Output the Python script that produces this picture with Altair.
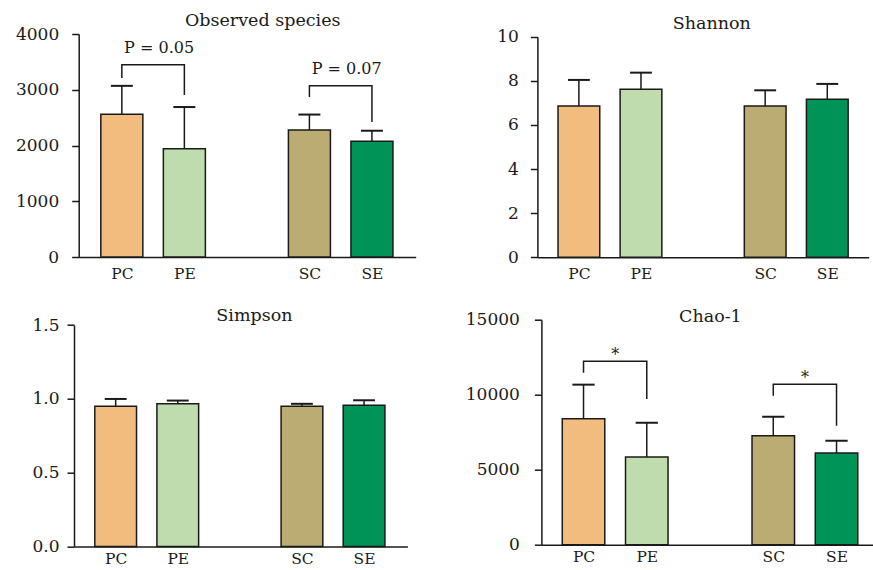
import altair as alt
import pandas as pd

# ---------------- data ----------------
GROUPS = ["PC", "PE", "SC", "SE"]
SLOTS = [1, 2, 4, 5]  # category slot on the x axis (gap between P and S groups)
COLORS = ["#F2BC7E", "#BEDCAE", "#BBAC74", "#009357"]

OBS_MEAN = [2560, 1940, 2280, 2075]
OBS_UPPER = [3070, 2690, 2555, 2265]
SHANNON_MEAN = [6.86, 7.62, 6.86, 7.16]
SHANNON_UPPER = [8.04, 8.37, 7.57, 7.86]
SIMPSON_MEAN = [0.949, 0.966, 0.949, 0.956]
SIMPSON_UPPER = [0.999, 0.988, 0.966, 0.990]
CHAO_MEAN = [8400, 5840, 7270, 6110]
CHAO_UPPER = [10670, 8130, 8530, 6930]

BRACKET_LEFT = ["PC", "SC"]
BRACKET_RIGHT = ["PE", "SE"]
OBS_BRACKET_TOP = [3450, 3070]
OBS_BRACKET_LEFT_END = [3210, 2870]
OBS_BRACKET_RIGHT_END = [2905, 2420]
OBS_BRACKET_LABEL = ["P = 0.05", "P = 0.07"]
CHAO_BRACKET_TOP = [12230, 10690]
CHAO_BRACKET_LEFT_END = [11460, 9930]
CHAO_BRACKET_RIGHT_END = [9710, 7930]
CHAO_BRACKET_LABEL = ["*", "*"]

OBS_TICKS = [0, 1000, 2000, 3000, 4000]
SHANNON_TICKS = [0, 2, 4, 6, 8, 10]
SIMPSON_TICKS = [0, 0.5, 1.0, 1.5]
CHAO_TICKS = [0, 5000, 10000, 15000]

TITLES = ["Observed species", "Shannon", "Simpson", "Chao-1"]

# ---------------- style ----------------
FONT = "DejaVu Serif"
INK = "#1a1a1a"
SLOT_OF = dict(zip(GROUPS, SLOTS))
LABEL_EXPR = " : ".join(f"datum.value == {s} ? '{g}'" for g, s in zip(GROUPS, SLOTS)) + " : ''"


def bracket_frames(tops, lends, rends, labels):
    rows, texts = [], []
    for i, (gl, gr, t, le, re, lab) in enumerate(
        zip(BRACKET_LEFT, BRACKET_RIGHT, tops, lends, rends, labels)
    ):
        xl, xr = SLOT_OF[gl], SLOT_OF[gr]
        for k, (x, y) in enumerate([(xl, le), (xl, t), (xr, t), (xr, re)]):
            rows.append({"b": i, "k": k, "x": x, "y": y})
        texts.append({"x": (xl + xr) / 2, "y": t, "label": lab})
    return pd.DataFrame(rows), pd.DataFrame(texts)


def panel(mean, upper, ymax, yticks, yfmt, xdom, xrange, yrange, width, height,
          yoffset, ylabel_pad, xlabel_pad, title, tx, ty, min_extent=30,
          brackets=None, text_dx=0, text_dy=-12, text_size=16):
    df = pd.DataFrame({"group": GROUPS, "slot": SLOTS, "mean": mean,
                       "upper": upper, "color": COLORS})
    xs = alt.Scale(domain=xdom, range=xrange, nice=False, zero=False)
    ys = alt.Scale(domain=[0, ymax], range=yrange, nice=False, zero=True)
    xaxis = alt.Axis(values=SLOTS, labelExpr=LABEL_EXPR, ticks=False,
                     labelPadding=xlabel_pad, grid=False, title=None,
                     domainColor=INK, domainWidth=1.5, labelFont=FONT,
                     labelFontSize=15.5, labelColor=INK, labelAngle=0,
                     labelFlush=False, labelOverlap=False)
    yaxis = alt.Axis(values=yticks, format=yfmt, tickSize=7, tickWidth=1.5,
                     tickColor=INK, domainColor=INK, domainWidth=1.5,
                     labelPadding=ylabel_pad, labelFont=FONT, labelFontSize=17,
                     labelColor=INK, grid=False, title=None, offset=yoffset,
                     minExtent=min_extent, labelOverlap=False)

    def X(field):
        return alt.X(field, scale=xs, axis=xaxis, title=None)

    def Y(field):
        return alt.Y(field, scale=ys, axis=yaxis, title=None)

    base = alt.Chart(df)
    bars = base.mark_bar(stroke=INK, strokeWidth=1.5).transform_calculate(
        x0="datum.slot - 0.336", x1="datum.slot + 0.336"
    ).encode(
        x=X("x0:Q"),
        x2="x1:Q",
        y=Y("mean:Q"),
        y2=alt.datum(0),
        color=alt.Color("color:N", scale=None),
    )
    err = base.mark_rule(color=INK, strokeWidth=1.5).encode(
        x=X("slot:Q"),
        y=Y("mean:Q"),
        y2="upper:Q",
    )
    caps = base.mark_rule(color=INK, strokeWidth=2).transform_calculate(
        c0="datum.slot - 0.176", c1="datum.slot + 0.176"
    ).encode(
        x=X("c0:Q"),
        x2="c1:Q",
        y=Y("upper:Q"),
    )
    layers = [bars, err, caps]
    if brackets is not None:
        path_df, text_df = bracket_frames(*brackets)
        line = alt.Chart(path_df).mark_line(
            color=INK, strokeWidth=1.5, strokeJoin="miter", strokeCap="butt"
        ).encode(
            x=X("x:Q"),
            y=Y("y:Q"),
            detail="b:N",
            order="k:Q",
        )
        txt = alt.Chart(text_df).mark_text(
            font=FONT, fontSize=text_size, color=INK, baseline="alphabetic",
            align="center", dx=text_dx, dy=text_dy
        ).encode(
            x=X("x:Q"),
            y=Y("y:Q"),
            text="label:N",
        )
        layers += [line, txt]
    ttl = alt.Chart(pd.DataFrame({"t": [title]})).mark_text(
        font=FONT, fontSize=17.5, color=INK, baseline="alphabetic", align="center"
    ).encode(x=alt.value(tx), y=alt.value(ty), text="t:N")
    layers.append(ttl)
    return alt.layer(*layers).properties(width=width, height=height)


p1 = panel(OBS_MEAN, OBS_UPPER, 4000, OBS_TICKS, "d",
           [0.31, 5.70], [4.7, 341.7], [223, 0], 342, 223,
           -4.7, 13, 9, TITLES[0], 188.7, -8, min_extent=70,
           brackets=(OBS_BRACKET_TOP, OBS_BRACKET_LEFT_END,
                     OBS_BRACKET_RIGHT_END, OBS_BRACKET_LABEL),
           text_dx=6, text_dy=-12, text_size=16)
p2 = panel(SHANNON_MEAN, SHANNON_UPPER, 10, SHANNON_TICKS, "d",
           [0.332, 5.667], [0, 331.3], [223.3, 2.7], 331.3, 223.3,
           0, 12, 9, TITLES[1], 174.3, -4.7)
p3 = panel(SIMPSON_MEAN, SIMPSON_UPPER, 1.5, SIMPSON_TICKS, ".1f",
           [0.329, 5.698], [0, 333.4], [226.7, 5.3], 333.4, 226.7,
           0, 8, 5, TITLES[2], 180.4, 1.7)
p4 = panel(CHAO_MEAN, CHAO_UPPER, 15000, CHAO_TICKS, "d",
           [0.334, 5.575], [4, 335.5], [225, 0], 335.5, 225,
           -4, 15, 5, TITLES[3], 173, 2.7,
           brackets=(CHAO_BRACKET_TOP, CHAO_BRACKET_LEFT_END,
                     CHAO_BRACKET_RIGHT_END, CHAO_BRACKET_LABEL),
           text_dx=0, text_dy=-1, text_size=16)

chart = alt.concat(
    p1, p2, p3, p4, columns=2,
    spacing={"row": 61.7, "column": 121.4},
    bounds="flush", align="each",
).properties(
    padding={"left": 8, "top": 12, "right": 0, "bottom": 0}
).configure_view(stroke=None)

chart.save("out.html", embed_options={"renderer": "svg", "actions": False})
